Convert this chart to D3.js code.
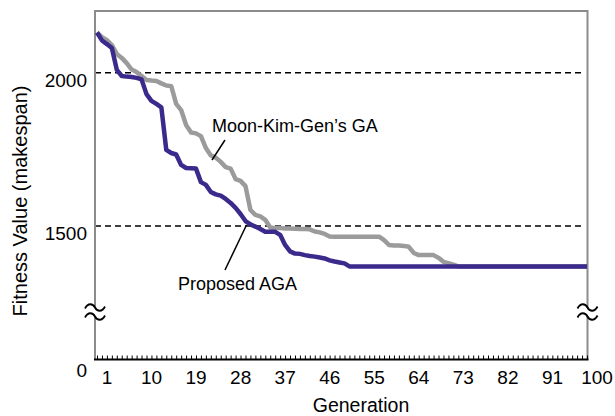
<!DOCTYPE html>
<html>
<head>
<meta charset="utf-8">
<script src="https://cdn.jsdelivr.net/npm/d3@7"></script>
<style>
  body { margin: 0; background: #fff; }
  text { font-family: "Liberation Sans", Arial, Helvetica, sans-serif; fill: #000; }
</style>
</head>
<body>
<div id="chart"></div>
<script>
// fitness per generation (1..100)
var aga = [2131, 2105, 2093, 2080, 2009, 1989, 1987, 1986, 1983, 1978,
           1930, 1908, 1898, 1887, 1748, 1738, 1733, 1699, 1689, 1688,
           1687, 1643, 1634, 1611, 1603, 1599, 1588, 1575, 1559, 1539,
           1516, 1505, 1498, 1490, 1481, 1481, 1481, 1471, 1438, 1417,
           1410, 1409, 1405, 1402, 1400, 1397, 1394, 1388, 1384, 1381,
           1378, 1368, 1368, 1368, 1368, 1368, 1368, 1368, 1368, 1368,
           1368, 1368, 1368, 1368, 1368, 1368, 1368, 1368, 1368, 1368,
           1368, 1368, 1368, 1368, 1368, 1368, 1368, 1368, 1368, 1368,
           1368, 1368, 1368, 1368, 1368, 1368, 1368, 1368, 1368, 1368,
           1368, 1368, 1368, 1368, 1368, 1368, 1368, 1368, 1368, 1368];

var moon = [2131, 2116, 2106, 2090, 2061, 2048, 2031, 2010, 2002, 1989,
            1976, 1974, 1973, 1965, 1958, 1956, 1898, 1878, 1829, 1805,
            1802, 1793, 1754, 1730, 1723, 1709, 1692, 1687, 1653, 1647,
            1630, 1552, 1536, 1531, 1520, 1495, 1493, 1493, 1492, 1492,
            1491, 1490, 1490, 1489, 1482, 1479, 1474, 1466, 1465, 1465,
            1465, 1465, 1465, 1465, 1465, 1465, 1465, 1465, 1454, 1438,
            1436, 1436, 1435, 1432, 1412, 1405, 1405, 1405, 1405, 1396,
            1383, 1379, 1374, 1368, 1368, 1368, 1368, 1368, 1368, 1368,
            1368, 1368, 1368, 1368, 1368, 1368, 1368, 1368, 1368, 1368,
            1368, 1368, 1368, 1368, 1368, 1368, 1368, 1368, 1368, 1368];

var xTicks = [1, 10, 19, 28, 37, 46, 55, 64, 73, 82, 91, 100];
var yTicks = [0, 1500, 2000];
var gridVals = [1500, 2000];

var width = 615, height = 416;
var pLeft = 95, pRight = 587.5, pTop = 11, pBottom = 359.5;

var svg = d3.select('#chart')
    .append('svg')
    .attr('width', width)
    .attr('height', height);

var x = d3.scaleLinear().domain([1, 100]).range([97, 587]);
// broken axis: compressed below 1150
var y = d3.scaleLinear().domain([0, 1150, 2200]).range([pBottom, 333.3, pTop + 0.3]);

// dashed grid
svg.append('g').selectAll('line')
    .data(gridVals)
    .enter().append('line')
    .attr('x1', pLeft).attr('x2', 583)
    .attr('y1', d => y(d)).attr('y2', d => y(d))
    .attr('stroke', '#000')
    .attr('stroke-width', 1.5)
    .attr('stroke-dasharray', '6,4');

// frame (grey)
svg.append('path')
    .attr('d', `M${pLeft},${pBottom}V${pTop}H${pRight}V${pBottom}`)
    .attr('fill', 'none')
    .attr('stroke', '#8c8c8c')
    .attr('stroke-width', 2);

// lines
var line = d3.line()
    .x((d, i) => x(i + 1))
    .y(d => y(d));

svg.append('path')
    .datum(moon)
    .attr('d', line)
    .attr('fill', 'none')
    .attr('stroke', '#9b9b9b')
    .attr('stroke-width', 4.5)
    .attr('stroke-linejoin', 'round');

svg.append('path')
    .datum(aga)
    .attr('d', line)
    .attr('fill', 'none')
    .attr('stroke', '#3b2a8c')
    .attr('stroke-width', 4.5)
    .attr('stroke-linejoin', 'round');

// x axis: minor ticks every generation
var xMinor = svg.append('g')
    .attr('transform', `translate(0,${pBottom})`)
    .call(d3.axisBottom(x).tickValues(aga.map((d, i) => i + 1)).tickSize(-4).tickFormat(''));
xMinor.select('.domain').remove();
xMinor.selectAll('line').attr('stroke-width', 1);

svg.append('line')
    .attr('x1', pLeft - 1).attr('x2', pRight + 1)
    .attr('y1', pBottom).attr('y2', pBottom)
    .attr('stroke', '#000')
    .attr('stroke-width', 2);

var xLab = svg.append('g')
    .attr('transform', `translate(9.5,${pBottom})`)
    .call(d3.axisBottom(x).tickValues(xTicks).tickSize(0).tickPadding(11));
xLab.select('.domain').remove();
xLab.selectAll('text').style('font-size', '19px').attr('fill', '#000');

// y axis labels
var yLab = svg.append('g')
    .attr('transform', `translate(${pLeft},0)`)
    .call(d3.axisLeft(y).tickValues(yTicks).tickSize(0).tickPadding(8).tickFormat(d3.format('d')));
yLab.select('.domain').remove();
yLab.selectAll('text').style('font-size', '19px')
    .attr('dy', d => d === 0 ? 16.5 : 13.5)
    .attr('fill', '#000');

// axis break marks
function breakMark(cx, cy) {
    var g = svg.append('g').attr('transform', `translate(${cx},${cy})`);
    g.append('rect').attr('x', -4).attr('y', -4).attr('width', 8).attr('height', 8).attr('fill', '#fff');
    [-4.5, 4.5].forEach(function (dy) {
        g.append('path')
            .attr('d', `M-10,${dy + 1}C-7,${dy - 5} -2,${dy - 4} 0,${dy}S7,${dy + 5} 10,${dy - 1}`)
            .attr('fill', 'none')
            .attr('stroke', '#000')
            .attr('stroke-width', 1.8);
    });
}
breakMark(pLeft, 312);
breakMark(pRight, 312);

// annotations
svg.append('text')
    .attr('x', 212).attr('y', 131.5)
    .style('font-size', '18px')
    .text('Moon-Kim-Gen\u2019s GA');
svg.append('line')
    .attr('x1', 225).attr('y1', 140).attr('x2', 212).attr('y2', 160)
    .attr('stroke', '#000').attr('stroke-width', 1.5);

svg.append('text')
    .attr('x', 178).attr('y', 290)
    .style('font-size', '18px')
    .text('Proposed AGA');
svg.append('line')
    .attr('x1', 246.5).attr('y1', 225).attr('x2', 225).attr('y2', 270)
    .attr('stroke', '#000').attr('stroke-width', 1.5);

// axis titles
svg.append('text')
    .attr('x', 361).attr('y', 412)
    .attr('text-anchor', 'middle')
    .style('font-size', '19.5px')
    .text('Generation');

svg.append('text')
    .attr('transform', 'translate(27,201)rotate(-90)')
    .attr('text-anchor', 'middle')
    .style('font-size', '20px')
    .text('Fitness Value (makespan)');
</script>
</body>
</html>
